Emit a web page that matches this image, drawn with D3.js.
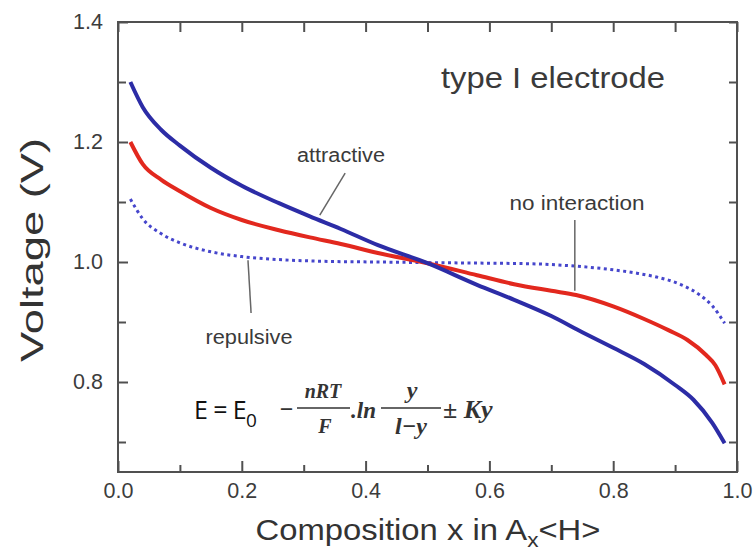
<!DOCTYPE html>
<html>
<head>
<meta charset="utf-8">
<script src="https://cdn.jsdelivr.net/npm/d3@7"></script>
<style>
body { margin: 0; background: #fff; }
svg { display: block; font-family: "Liberation Sans", Arial, sans-serif; }
.tick text { fill: #3c3c3c; }
</style>
</head>
<body>
<div id="container"><svg></svg></div>
<script>
let width = 755;
let height = 552;

// attractive (blue, solid)
let attr_x = [0.02, 0.04, 0.07, 0.10, 0.15, 0.20, 0.26, 0.31, 0.36, 0.42, 0.50, 0.58, 0.64, 0.70, 0.75, 0.80, 0.85, 0.90, 0.93, 0.96, 0.98];
let attr_v = [1.300, 1.258, 1.220, 1.194, 1.157, 1.127, 1.098, 1.076, 1.055, 1.028, 0.998, 0.962, 0.937, 0.910, 0.883, 0.857, 0.830, 0.795, 0.770, 0.732, 0.698];
// no interaction (red, solid)
let none_x = [0.02, 0.04, 0.07, 0.10, 0.15, 0.20, 0.26, 0.31, 0.36, 0.42, 0.50, 0.58, 0.64, 0.70, 0.74, 0.80, 0.85, 0.89, 0.92, 0.95, 0.965, 0.98];
let none_v = [1.200, 1.163, 1.137, 1.118, 1.090, 1.070, 1.053, 1.041, 1.030, 1.015, 0.998, 0.978, 0.963, 0.952, 0.945, 0.926, 0.905, 0.886, 0.870, 0.845, 0.828, 0.796];
// repulsive (blue, dotted)
let rep_x = [0.02, 0.04, 0.07, 0.10, 0.15, 0.20, 0.26, 0.34, 0.42, 0.50, 0.60, 0.67, 0.74, 0.80, 0.84, 0.87, 0.91, 0.94, 0.96, 0.98];
let rep_v = [1.105, 1.072, 1.047, 1.032, 1.017, 1.009, 1.004, 1.001, 1.000, 0.999, 0.998, 0.997, 0.993, 0.987, 0.981, 0.975, 0.962, 0.945, 0.927, 0.898];

let x_major = [0, 0.2, 0.4, 0.6, 0.8, 1.0];
let x_minor = [0.1, 0.3, 0.5, 0.7, 0.9];
let y_major = [0.8, 1.0, 1.2, 1.4];
let y_minor = [0.7, 0.9, 1.1, 1.3];

let svg = d3.select('#container').select('svg')
    .attr('width', width)
    .attr('height', height);

let x = d3.scaleLinear().domain([0, 1]).range([118, 737]);
let y = d3.scaleLinear().domain([0.65, 1.4]).range([472, 22]);

function style_axis(g) {
    g.select('.domain').remove();
    g.selectAll('.tick line').attr('stroke', '#505050').attr('stroke-width', 2);
    g.selectAll('.tick text').attr('font-size', 21.5);
}

// bottom
svg.append('g').attr('transform', 'translate(0,472)')
    .call(d3.axisBottom(x).tickValues(x_major).tickFormat(d3.format('.1f')).tickSize(-11).tickPadding(11))
    .call(style_axis);
svg.append('g').attr('transform', 'translate(0,472)')
    .call(d3.axisBottom(x).tickValues(x_minor).tickFormat('').tickSize(-7))
    .call(style_axis);
// left
svg.append('g').attr('transform', 'translate(118,0)')
    .call(d3.axisLeft(y).tickValues(y_major).tickFormat(d3.format('.1f')).tickSize(-10).tickPadding(15))
    .call(style_axis);
svg.append('g').attr('transform', 'translate(118,0)')
    .call(d3.axisLeft(y).tickValues(y_minor).tickFormat('').tickSize(-8))
    .call(style_axis);
// top and right
svg.append('g').attr('transform', 'translate(0,22)')
    .call(d3.axisTop(x).tickValues(x_major.concat(x_minor)).tickFormat('').tickSize(-10))
    .call(style_axis);
svg.append('g').attr('transform', 'translate(737,0)')
    .call(d3.axisRight(y).tickValues(y_major.concat(y_minor)).tickFormat('').tickSize(-8))
    .call(style_axis);

// frame
svg.append('rect')
    .attr('x', x(0)).attr('y', y(1.4))
    .attr('width', x(1) - x(0)).attr('height', y(0.65) - y(1.4))
    .attr('fill', 'none').attr('stroke', '#505050').attr('stroke-width', 2);

let line = d3.line()
    .x(d => x(d[0]))
    .y(d => y(d[1]))
    .curve(d3.curveMonotoneX);

svg.append('path')
    .datum(rep_x.map((d, i) => [d, rep_v[i]]))
    .attr('d', line)
    .attr('fill', 'none')
    .attr('stroke', '#4646cc')
    .attr('stroke-width', 3)
    .attr('stroke-dasharray', '3,3.5');
svg.append('path')
    .datum(none_x.map((d, i) => [d, none_v[i]]))
    .attr('d', line)
    .attr('fill', 'none')
    .attr('stroke', '#e2281e')
    .attr('stroke-width', 4);
svg.append('path')
    .datum(attr_x.map((d, i) => [d, attr_v[i]]))
    .attr('d', line)
    .attr('fill', 'none')
    .attr('stroke', '#2c2ca6')
    .attr('stroke-width', 4);

// leader lines
let leaders = [
    [[0.367, 1.148], [0.326, 1.078]],
    [[0.738, 1.070], [0.738, 0.952]],
    [[0.210, 1.003], [0.215, 0.915]]
];
leaders.forEach(l => {
    svg.append('line')
        .attr('x1', x(l[0][0])).attr('y1', y(l[0][1]))
        .attr('x2', x(l[1][0])).attr('y2', y(l[1][1]))
        .attr('stroke', '#666').attr('stroke-width', 1.5);
});

function label(txt, cx, base, size, len) {
    svg.append('text')
        .attr('x', cx).attr('y', base)
        .attr('text-anchor', 'middle')
        .attr('font-size', size)
        .attr('fill', '#3a3a3a')
        .attr('textLength', len)
        .attr('lengthAdjust', 'spacingAndGlyphs')
        .text(txt);
}
label('attractive', 341, 162, 20, 88);
label('no interaction', 577, 210, 20, 135);
label('repulsive', 249, 344, 20, 87);
label('type I electrode', 553, 88, 29, 224);

// axis titles
svg.append('text')
    .attr('transform', 'translate(43,250) rotate(-90)')
    .attr('text-anchor', 'middle')
    .attr('font-size', 31)
    .attr('fill', '#333')
    .attr('textLength', 224)
    .attr('lengthAdjust', 'spacingAndGlyphs')
    .text('Voltage (V)');

let xt = svg.append('text')
    .attr('x', 428).attr('y', 540)
    .attr('text-anchor', 'middle')
    .attr('font-size', 29)
    .attr('fill', '#333')
    .attr('textLength', 345)
    .attr('lengthAdjust', 'spacingAndGlyphs');
xt.append('tspan').text('Composition x in A');
xt.append('tspan').attr('font-size', 20).attr('dy', 7).text('x');
xt.append('tspan').attr('dy', -7).text('<H>');

// equation
let eq = svg.append('g').attr('fill', '#111');
let e0 = eq.append('text').attr('x', 194).attr('y', 419)
    .attr('font-family', '"Open Sans", "Liberation Sans", sans-serif')
    .attr('font-size', 25)
    .attr('letter-spacing', -0.6);
e0.append('tspan').text('E = E');
e0.append('tspan').attr('font-size', 19).attr('dy', 8).text('0');
let serif = '"Liberation Serif", "Times New Roman", serif';
function it(txt, xx, yy, size, anchor) {
    eq.append('text').attr('x', xx).attr('y', yy)
        .attr('font-family', serif).attr('font-style', 'italic').attr('font-weight', 'bold')
        .attr('font-size', size).attr('text-anchor', anchor || 'start')
        .attr('fill', '#333').text(txt);
}
it('\u2212', 279, 417, 24);
it('nRT', 323, 398, 20, 'middle');
it('F', 325, 433, 20, 'middle');
it('.ln', 351, 418, 23);
it('y', 412, 398, 24, 'middle');
it('l\u2212y', 411, 434, 24, 'middle');
it('\u00b1 Ky', 443, 418, 26);
eq.append('line').attr('x1', 297).attr('x2', 350).attr('y1', 408).attr('y2', 408)
    .attr('stroke', '#333').attr('stroke-width', 1.5);
eq.append('line').attr('x1', 381).attr('x2', 441).attr('y1', 408).attr('y2', 408)
    .attr('stroke', '#333').attr('stroke-width', 1.5);
</script>
</body>
</html>
